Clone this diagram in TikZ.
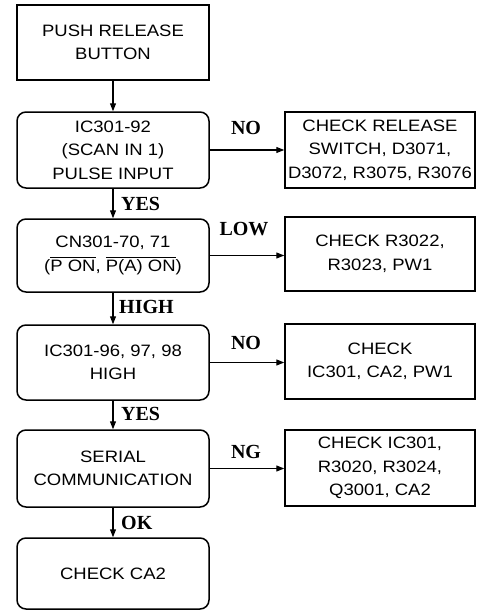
\documentclass[tikz,border=0pt]{standalone}
\usepackage{fontspec}
\usepackage{amsmath}
\usetikzlibrary{arrows.meta,positioning}
\newfontfamily\boxfont{Liberation Sans}[FakeStretch=1.12]
\newfontfamily\lblfont{Liberation Serif}
\tikzset{
  stepbox/.style={draw=black, line width=1.5pt, minimum width=192pt, align=center,
    font=\boxfont\fontsize{16.5}{23.5}\selectfont, inner sep=0pt},
  testbox/.style={stepbox, rounded corners=9pt},
  fixbox/.style={stepbox, minimum width=190pt},
  flow/.style={-{Triangle[length=8pt,width=6pt]}, line width=1.3pt},
  lbl/.style={font=\lblfont\bfseries\fontsize{20}{22}\selectfont, inner sep=0pt}
}
\newcommand{\barred}[1]{$\overline{\mbox{#1}}$}
\begin{document}
\begin{tikzpicture}[x=1pt,y=-1pt]
  \useasboundingbox (0,0) rectangle (486,611);
  % left column
  \node[stepbox, minimum height=75pt] (push) at (113,42.5) {PUSH RELEASE\\BUTTON};
  \node[testbox, minimum height=76pt] (scan) at (113,150) {IC301-92\\(SCAN IN 1)\\PULSE INPUT};
  \node[testbox, minimum height=73pt] (pon) at (113,255.5) {CN301-70, 71\\(\barred{P ON}, \barred{P(A) ON})};
  \node[testbox, minimum height=75pt] (high) at (113,362.5) {IC301-96, 97, 98\\HIGH};
  \node[testbox, minimum height=77pt] (serial) at (113,468.5) {SERIAL\\COMMUNICATION};
  \node[testbox, minimum height=71pt] (ca) at (113,573.5) {CHECK CA2};
  % right column
  \node[fixbox, minimum height=76pt] (chk1) at (380,150) {CHECK RELEASE\\SWITCH, D3071,\\D3072, R3075, R3076};
  \node[fixbox, minimum height=74pt] (chk2) at (380,254) {CHECK R3022,\\R3023, PW1};
  \node[fixbox, minimum height=75pt] (chk3) at (380,361.5) {CHECK\\IC301, CA2, PW1};
  \node[fixbox, minimum height=76pt] (chk4) at (380,468) {CHECK IC301,\\R3020, R3024,\\Q3001, CA2};
  % connectors
  \draw[flow] (push) -- (scan);
  \draw[flow] (scan) -- (pon);
  \draw[flow] (pon) -- (high);
  \draw[flow] (high) -- (serial);
  \draw[flow] (serial) -- (ca);
  \draw[flow] (scan) -- (chk1);
  \draw[flow] (pon.east) -- (chk2.west |- pon.east);
  \draw[flow] (high.east) -- (chk3.west |- high.east);
  \draw[flow] (serial.east) -- (chk4.west |- serial.east);
  % labels
  \node[lbl] (no1) at (246,128) {NO};
  \node[lbl] (low) at (244,229) {LOW};
  \node[lbl] (no2) at (246,343) {NO};
  \node[lbl] (ng) at (246,452) {NG};
  \node[lbl, anchor=west] (yes1) at (121,204) {YES};
  \node[lbl, anchor=west] (hi) at (119,307) {HIGH};
  \node[lbl, anchor=west] (yes2) at (121,414) {YES};
  \node[lbl, anchor=west] (ok) at (121,523) {OK};
\end{tikzpicture}
\end{document}
